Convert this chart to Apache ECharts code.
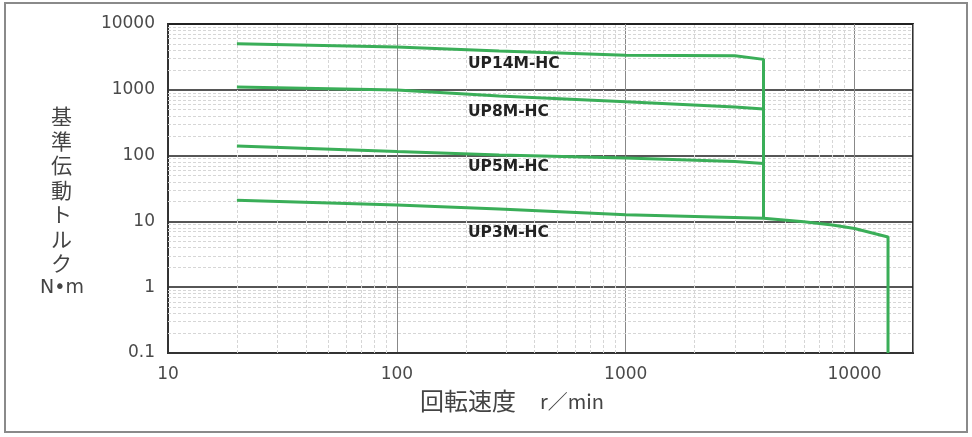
<!DOCTYPE html>
<html>
<head>
  <meta charset="UTF-8">
  <title>基準伝動トルク</title>
  <script src="https://cdn.jsdelivr.net/npm/echarts@6/dist/echarts.min.js"></script>
  <style type="text/css">
    html, body { margin: 0; padding: 0; background: #ffffff; }
    #chart { width: 972px; height: 437px; }
  </style>
</head>
<body>
<div id="chart"></div>
<script type="text/javascript">
    // 回転速度 r/min と 基準伝動トルク N・m
    var up14m = [[20, 5000], [100, 4470], [280, 3900], [1000, 3350], [3000, 3300], [4000, 2900], [4000, 11.2]];
    var up8m = [[20, 1100], [100, 990], [280, 805], [1000, 660], [3000, 550], [4000, 510]];
    var up5m = [[20, 140], [100, 115], [280, 102], [1000, 92], [3000, 81], [4000, 76]];
    var up3m = [[20, 21], [100, 17.7], [280, 15.4], [1000, 12.6], [4000, 11.2], [6000, 9.9], [8000, 8.8], [10000, 7.8], [14000, 5.8], [14000, 0.1]];

    var seriesNames = ['UP14M-HC', 'UP8M-HC', 'UP5M-HC', 'UP3M-HC'];

    // 補助目盛り線（2〜9倍）
    var minorX = [20, 30, 40, 50, 60, 70, 80, 90, 200, 300, 400, 500, 600, 700, 800, 900,
        2000, 3000, 4000, 5000, 6000, 7000, 8000, 9000];
    var minorY = [0.2, 0.3, 0.4, 0.5, 0.6, 0.7, 0.8, 0.9, 2, 3, 4, 5, 6, 7, 8, 9,
        20, 30, 40, 50, 60, 70, 80, 90, 200, 300, 400, 500, 600, 700, 800, 900,
        2000, 3000, 4000, 5000, 6000, 7000, 8000, 9000];

    var green = '#3aae58';
    var tickFont = 'DejaVu Sans';
    var cjkFont = 'Noto Sans CJK JP';

    function fmt(v) {
        return String(+Number(v).toPrecision(6));
    }

    function curve(name, data) {
        return {
            name: name,
            type: 'line',
            data: data,
            showSymbol: false,
            silent: true,
            z: 5,
            lineStyle: { color: green, width: 3 }
        };
    }

    function label(text, top) {
        return {
            type: 'text', left: 468, top: top, silent: true, z: 10,
            style: { text: text, fontSize: 15.5, fontWeight: 'bold', fill: '#222', fontFamily: 'DejaVu Sans' }
        };
    }

    var myChart = echarts.init(document.getElementById('chart'));

    var gridLines = {
        type: 'line',
        data: [],
        silent: true,
        z: 1,
        markLine: {
            symbol: 'none',
            silent: true,
            animation: false,
            label: { show: false },
            lineStyle: { color: '#d6d6d6', type: [3, 2], width: 1 },
            data: minorX.map(function (v) { return { xAxis: v }; })
                .concat(minorY.map(function (v) { return { yAxis: v }; }))
        }
    };

    var option = {
        backgroundColor: '#ffffff',
        animation: false,
        grid: {
            left: 168, right: 59, top: 24, bottom: 84,
            show: true, borderColor: '#333', borderWidth: 2
        },
        xAxis: {
            type: 'log',
            min: 10,
            max: 18000,
            splitNumber: 3,
            axisLine: { show: true, lineStyle: { color: '#333', width: 2 } },
            axisTick: { show: false },
            axisLabel: {
                margin: 13, fontSize: 17, color: '#4a4a4a', fontFamily: tickFont,
                showMaxLabel: false, formatter: fmt
            },
            splitLine: { show: true, lineStyle: { color: '#888', width: 1 } }
        },
        yAxis: {
            type: 'log',
            min: 0.1,
            max: 10000,
            splitNumber: 5,
            axisLine: { show: true, lineStyle: { color: '#333', width: 2 } },
            axisTick: { show: false },
            axisLabel: { margin: 13, fontSize: 17, color: '#4a4a4a', fontFamily: tickFont, formatter: fmt },
            splitLine: { show: true, lineStyle: { color: '#1e1e1e', width: 1.5 } }
        },
        graphic: [
            {
                type: 'rect', silent: true,
                shape: { x: 5, y: 3, width: 962, height: 429 },
                style: { fill: 'none', stroke: '#8a8a8a', lineWidth: 2 }
            },
            {
                type: 'text', left: 51, top: 104, silent: true,
                style: {
                    text: '基\n準\n伝\n動\nト\nル\nク', fontSize: 21, lineHeight: 24.5,
                    fill: '#444', fontFamily: cjkFont
                }
            },
            {
                type: 'text', left: 40, top: 279, silent: true,
                style: { text: 'N•m', fontSize: 19, fill: '#444', fontFamily: 'DejaVu Sans' }
            },
            {
                type: 'text', left: 420, top: 389, silent: true,
                style: { text: '回転速度', fontSize: 24, fill: '#444', fontFamily: cjkFont }
            },
            {
                type: 'text', left: 540, top: 391, silent: true,
                style: { text: 'r／min', fontSize: 20, fill: '#444', fontFamily: cjkFont }
            },
            label(seriesNames[0], 56),
            label(seriesNames[1], 104),
            label(seriesNames[2], 159),
            label(seriesNames[3], 225)
        ],
        series: [
            gridLines,
            curve(seriesNames[0], up14m),
            curve(seriesNames[1], up8m),
            curve(seriesNames[2], up5m),
            curve(seriesNames[3], up3m)
        ]
    };
    myChart.setOption(option);
</script>
</body>
</html>
